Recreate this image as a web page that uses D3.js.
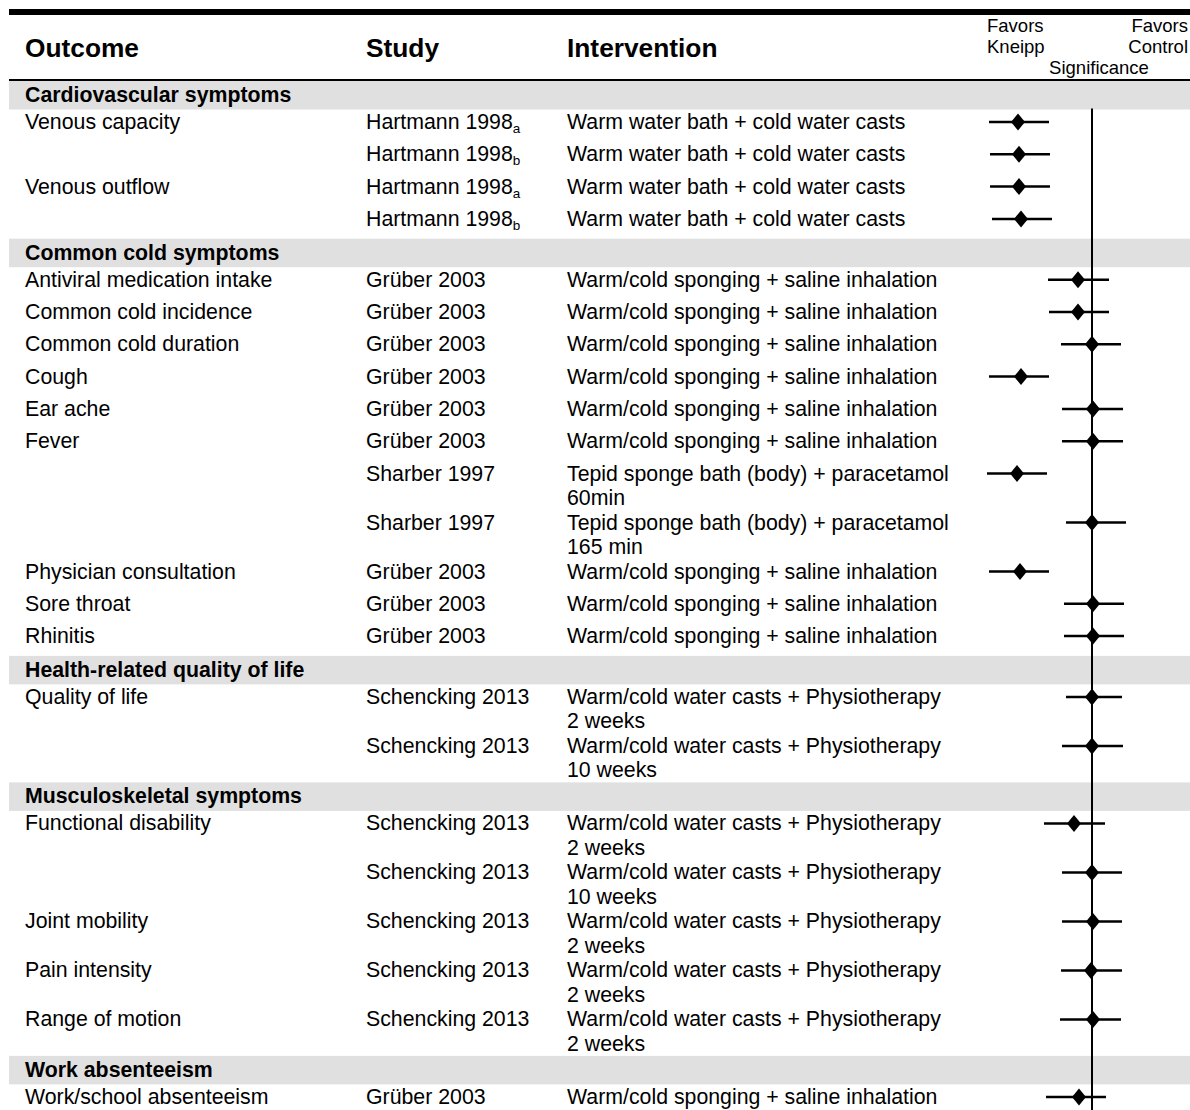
<!DOCTYPE html>
<html>
<head>
<meta charset="utf-8">
<script src="https://cdn.jsdelivr.net/npm/d3@7"></script>
<style>
  html, body { margin: 0; padding: 0; background: #fff; }
  svg { display: block; }
  text { font-family: "Liberation Sans", Arial, Helvetica, sans-serif; fill: #000; }
</style>
</head>
<body>
<div id="chart"></div>
<script>
// ---------------- DATA ----------------
const sections = [
  "Cardiovascular symptoms",
  "Common cold symptoms",
  "Health-related quality of life",
  "Musculoskeletal symptoms",
  "Work absenteeism"
];
const rowSection = [0,0,0,0, 1,1,1,1,1,1,1,1,1,1,1, 2,2, 3,3,3,3,3, 4];
const outcomes = [
  "Venous capacity", "", "Venous outflow", "",
  "Antiviral medication intake", "Common cold incidence", "Common cold duration", "Cough",
  "Ear ache", "Fever", "", "", "Physician consultation", "Sore throat", "Rhinitis",
  "Quality of life", "",
  "Functional disability", "", "Joint mobility", "Pain intensity", "Range of motion",
  "Work/school absenteeism"
];
const studies = [
  "Hartmann 1998", "Hartmann 1998", "Hartmann 1998", "Hartmann 1998",
  "Grüber 2003", "Grüber 2003", "Grüber 2003", "Grüber 2003", "Grüber 2003", "Grüber 2003",
  "Sharber 1997", "Sharber 1997",
  "Grüber 2003", "Grüber 2003", "Grüber 2003",
  "Schencking 2013", "Schencking 2013",
  "Schencking 2013", "Schencking 2013", "Schencking 2013", "Schencking 2013", "Schencking 2013",
  "Grüber 2003"
];
const studySubs = ["a","b","a","b", "","","","","","","","","","","", "","", "","","","","", ""];
const WCS = "Warm/cold sponging + saline inhalation";
const WCP = "Warm/cold water casts + Physiotherapy";
const WWB = "Warm water bath + cold water casts";
const interventions = [
  [WWB], [WWB], [WWB], [WWB],
  [WCS], [WCS], [WCS], [WCS], [WCS], [WCS],
  ["Tepid sponge bath (body) + paracetamol", "60min"],
  ["Tepid sponge bath (body) + paracetamol", "165 min"],
  [WCS], [WCS], [WCS],
  [WCP, "2 weeks"], [WCP, "10 weeks"],
  [WCP, "2 weeks"], [WCP, "10 weeks"], [WCP, "2 weeks"], [WCP, "2 weeks"], [WCP, "2 weeks"],
  [WCS]
];
// effect estimates and interval limits (arbitrary units, 0 = no difference)
const estimates = [-7.4,-7.3,-7.3,-7.1, -1.4,-1.4,0.0,-7.1,0.1,0.1,-7.5,0.0,-7.2,0.1,0.1, 0.0,0.0, -1.8,0.0,0.1,-0.1,0.1, -1.3];
const lowers    = [-10.3,-10.2,-10.2,-10.0, -4.4,-4.3,-3.1,-10.3,-3.0,-3.0,-10.5,-2.6,-10.3,-2.8,-2.8, -2.6,-3.0, -4.8,-3.0,-3.0,-3.1,-3.2, -4.6];
const uppers    = [-4.3,-4.2,-4.2,-4.0, 1.7,1.7,2.9,-4.3,3.1,3.1,-4.5,3.4,-4.3,3.2,3.2, 3.0,3.1, 1.3,3.0,3.0,3.0,2.9, 1.4];

const headers = ["Outcome", "Study", "Intervention"];
const favorsLeft = ["Favors", "Kneipp"];
const favorsRight = ["Favors", "Control"];
const sigLabel = "Significance";

// ---------------- LAYOUT ----------------
const W = 1190, H = 1110;
const colX = [25, 366, 567];
const tableLeft = 9;
const bandH = 28.5, singleH = 32.3, lineStep = 24.5, doubleH = 49;
const headerLineY = 81;
const bodyFont = 21.3;

const svg = d3.select("#chart").append("svg").attr("width", W).attr("height", H);

const x = d3.scaleLinear().domain([-11, 10]).range([982, 1192]);

// top rule and header rule
svg.append("rect").attr("x", tableLeft).attr("y", 9).attr("width", W - tableLeft).attr("height", 6).attr("fill", "#000");
svg.append("rect").attr("x", tableLeft).attr("y", 79).attr("width", W - tableLeft).attr("height", 2.5).attr("fill", "#000");

// headers
svg.selectAll("text.hdr").data(headers).enter().append("text")
  .attr("class", "hdr")
  .attr("x", (d, i) => colX[i]).attr("y", 57)
  .attr("font-size", 26.3).attr("font-weight", "bold")
  .text(d => d);

const legendG = svg.append("g");
legendG.selectAll("text.fl").data(favorsLeft).enter().append("text")
  .attr("x", 987).attr("y", (d, i) => 32 + i * 21).attr("font-size", 18.5).text(d => d);
legendG.selectAll("text.fr").data(favorsRight).enter().append("text")
  .attr("x", 1188).attr("y", (d, i) => 32 + i * 21).attr("text-anchor", "end").attr("font-size", 18.5).text(d => d);
legendG.append("text").attr("x", 1099).attr("y", 74).attr("text-anchor", "middle").attr("font-size", 18.5).text(sigLabel);

// compute row positions
const rowsLayout = [];
const bands = [];
let cy = headerLineY;
outcomes.forEach((o, i) => {
  if (i === 0 || rowSection[i] !== rowSection[i - 1]) {
    bands.push({ name: sections[rowSection[i]], top: cy });
    cy += bandH;
  }
  const lines = interventions[i].length;
  rowsLayout.push({ i, top: cy, base: cy + 19.5, lines });
  cy += lines > 1 ? doubleH : singleH;
});

// section bands
const bandG = svg.append("g");
bandG.selectAll("rect").data(bands).enter().append("rect")
  .attr("x", tableLeft).attr("y", d => d.top).attr("width", W - tableLeft).attr("height", bandH)
  .attr("fill", "#e0e0e0");
bandG.selectAll("text").data(bands).enter().append("text")
  .attr("x", colX[0]).attr("y", d => d.top + 21)
  .attr("font-size", bodyFont).attr("font-weight", "bold")
  .text(d => d.name);

// row texts
const rowG = svg.append("g");
rowG.selectAll("text.out").data(rowsLayout).enter().append("text")
  .attr("class", "out").attr("x", colX[0]).attr("y", d => d.base).attr("font-size", bodyFont)
  .text(d => outcomes[d.i]);
const st = rowG.selectAll("text.st").data(rowsLayout).enter().append("text")
  .attr("class", "st").attr("x", colX[1]).attr("y", d => d.base).attr("font-size", bodyFont);
st.append("tspan").text(d => studies[d.i]);
st.filter(d => studySubs[d.i]).append("tspan")
  .attr("font-size", 13.5).attr("dy", 4).text(d => studySubs[d.i]);
const iv = rowG.selectAll("text.iv").data(rowsLayout).enter().append("text")
  .attr("class", "iv").attr("x", colX[2]).attr("y", d => d.base).attr("font-size", bodyFont);
iv.selectAll("tspan").data(d => interventions[d.i]).enter().append("tspan")
  .attr("x", colX[2]).attr("dy", (d, k) => k === 0 ? 0 : lineStep).text(d => d);

// reference (no-effect) line
const firstTop = rowsLayout[0].top;
svg.append("line")
  .attr("x1", x(0)).attr("x2", x(0)).attr("y1", firstTop - 1).attr("y2", H)
  .attr("stroke", "#000").attr("stroke-width", 2);

// whiskers + diamonds
const markG = svg.append("g");
markG.selectAll("line.ci").data(rowsLayout).enter().append("line")
  .attr("class", "ci")
  .attr("x1", d => x(lowers[d.i])).attr("x2", d => x(uppers[d.i]))
  .attr("y1", d => d.base - 7).attr("y2", d => d.base - 7)
  .attr("stroke", "#000").attr("stroke-width", 2.5);
const dw = 7, dh = 8.5;
markG.selectAll("path.est").data(rowsLayout).enter().append("path")
  .attr("class", "est")
  .attr("d", d => {
    const cx = x(estimates[d.i]), yy = d.base - 7;
    return `M${cx},${yy - dh}L${cx + dw},${yy}L${cx},${yy + dh}L${cx - dw},${yy}Z`;
  })
  .attr("fill", "#000");
</script>
</body>
</html>
